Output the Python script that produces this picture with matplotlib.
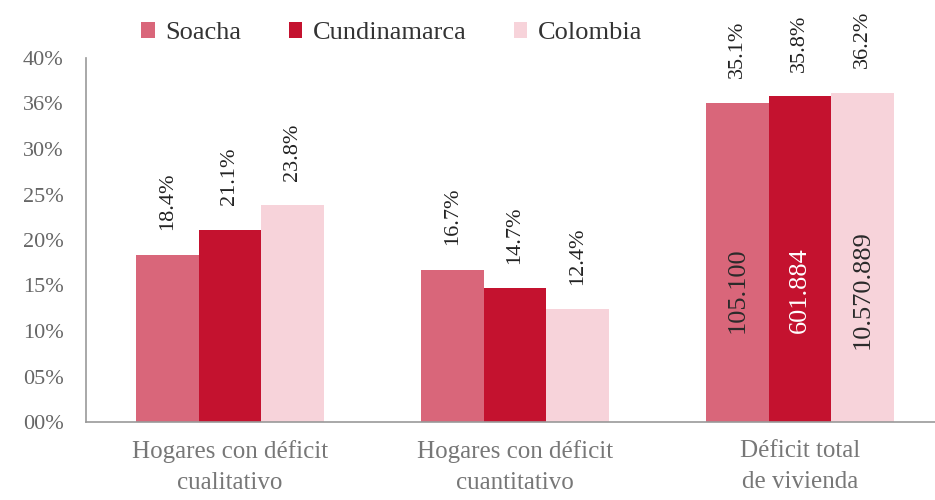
import numpy as np
import matplotlib.pyplot as plt

categories = ['Hogares con déficit\ncualitativo', 'Hogares con déficit\ncuantitativo', 'Déficit total\nde vivienda']
series = ['Soacha', 'Cundinamarca', 'Colombia']
soacha = [18.4, 16.7, 35.1]
cundinamarca = [21.1, 14.7, 35.8]
colombia = [23.8, 12.4, 36.2]
total_hogares = ['105.100', '601.884', '10.570.889']
ytick_vals = [0, 5, 10, 15, 20, 25, 30, 35, 40]
ytick_labels = ['00%', '05%', '10%', '15%', '20%', '25%', '30%', '36%', '40%']

colors = ['#d9667a', '#c4122f', '#f7d3da']
inner_colors = ['#2a2a2a', 'white', '#2a2a2a']

plt.rcParams['font.family'] = ['Liberation Serif', 'DejaVu Serif']

fig = plt.figure(figsize=(9.35, 5.0), dpi=100)
ax = fig.add_axes([0.092, 0.156, 0.908, 0.728])

group_pos = np.arange(len(categories))
width = 0.22

values = [soacha, cundinamarca, colombia]
for i, (name, vals) in enumerate(zip(series, values)):
    x = group_pos + (i - 1) * width
    ax.bar(x, vals, width, color=colors[i], label=name)
    for xi, v in zip(x, vals):
        ax.text(xi, v + 2.7, f'{v:.1f}%', rotation=90, ha='center', va='bottom',
                fontsize=16, color='#222222')
    # number of households inside the last group
    ax.text(x[2], 14.5, total_hogares[i], rotation=90, ha='center', va='center',
            fontsize=19, color=inner_colors[i])

ax.set_xlim(-0.505, 2.474)
ax.set_ylim(0, 40)
ax.set_yticks(ytick_vals)
ax.set_yticklabels(ytick_labels, fontsize=16, color='#666666')
ax.set_xticks(group_pos)
ax.set_xticklabels(categories, fontsize=18, color='#777777', linespacing=1.55)
ax.tick_params(axis='both', length=0)
ax.tick_params(axis='x', pad=13)
ax.tick_params(axis='y', pad=16)

for s in ['top', 'right']:
    ax.spines[s].set_visible(False)
ax.spines['left'].set_color('#999999')
ax.spines['bottom'].set_color('#999999')
ax.spines['left'].set_linewidth(1.2)
ax.spines['bottom'].set_linewidth(1.2)

ax.legend(loc='lower center', bbox_to_anchor=(0.36, 0.995), ncol=3, frameon=False,
          fontsize=19, handlelength=0.5, handleheight=0.55, handletextpad=0.4,
          columnspacing=1.8, labelcolor='#333333', borderaxespad=0.2)

plt.savefig('out.png', dpi=100)
